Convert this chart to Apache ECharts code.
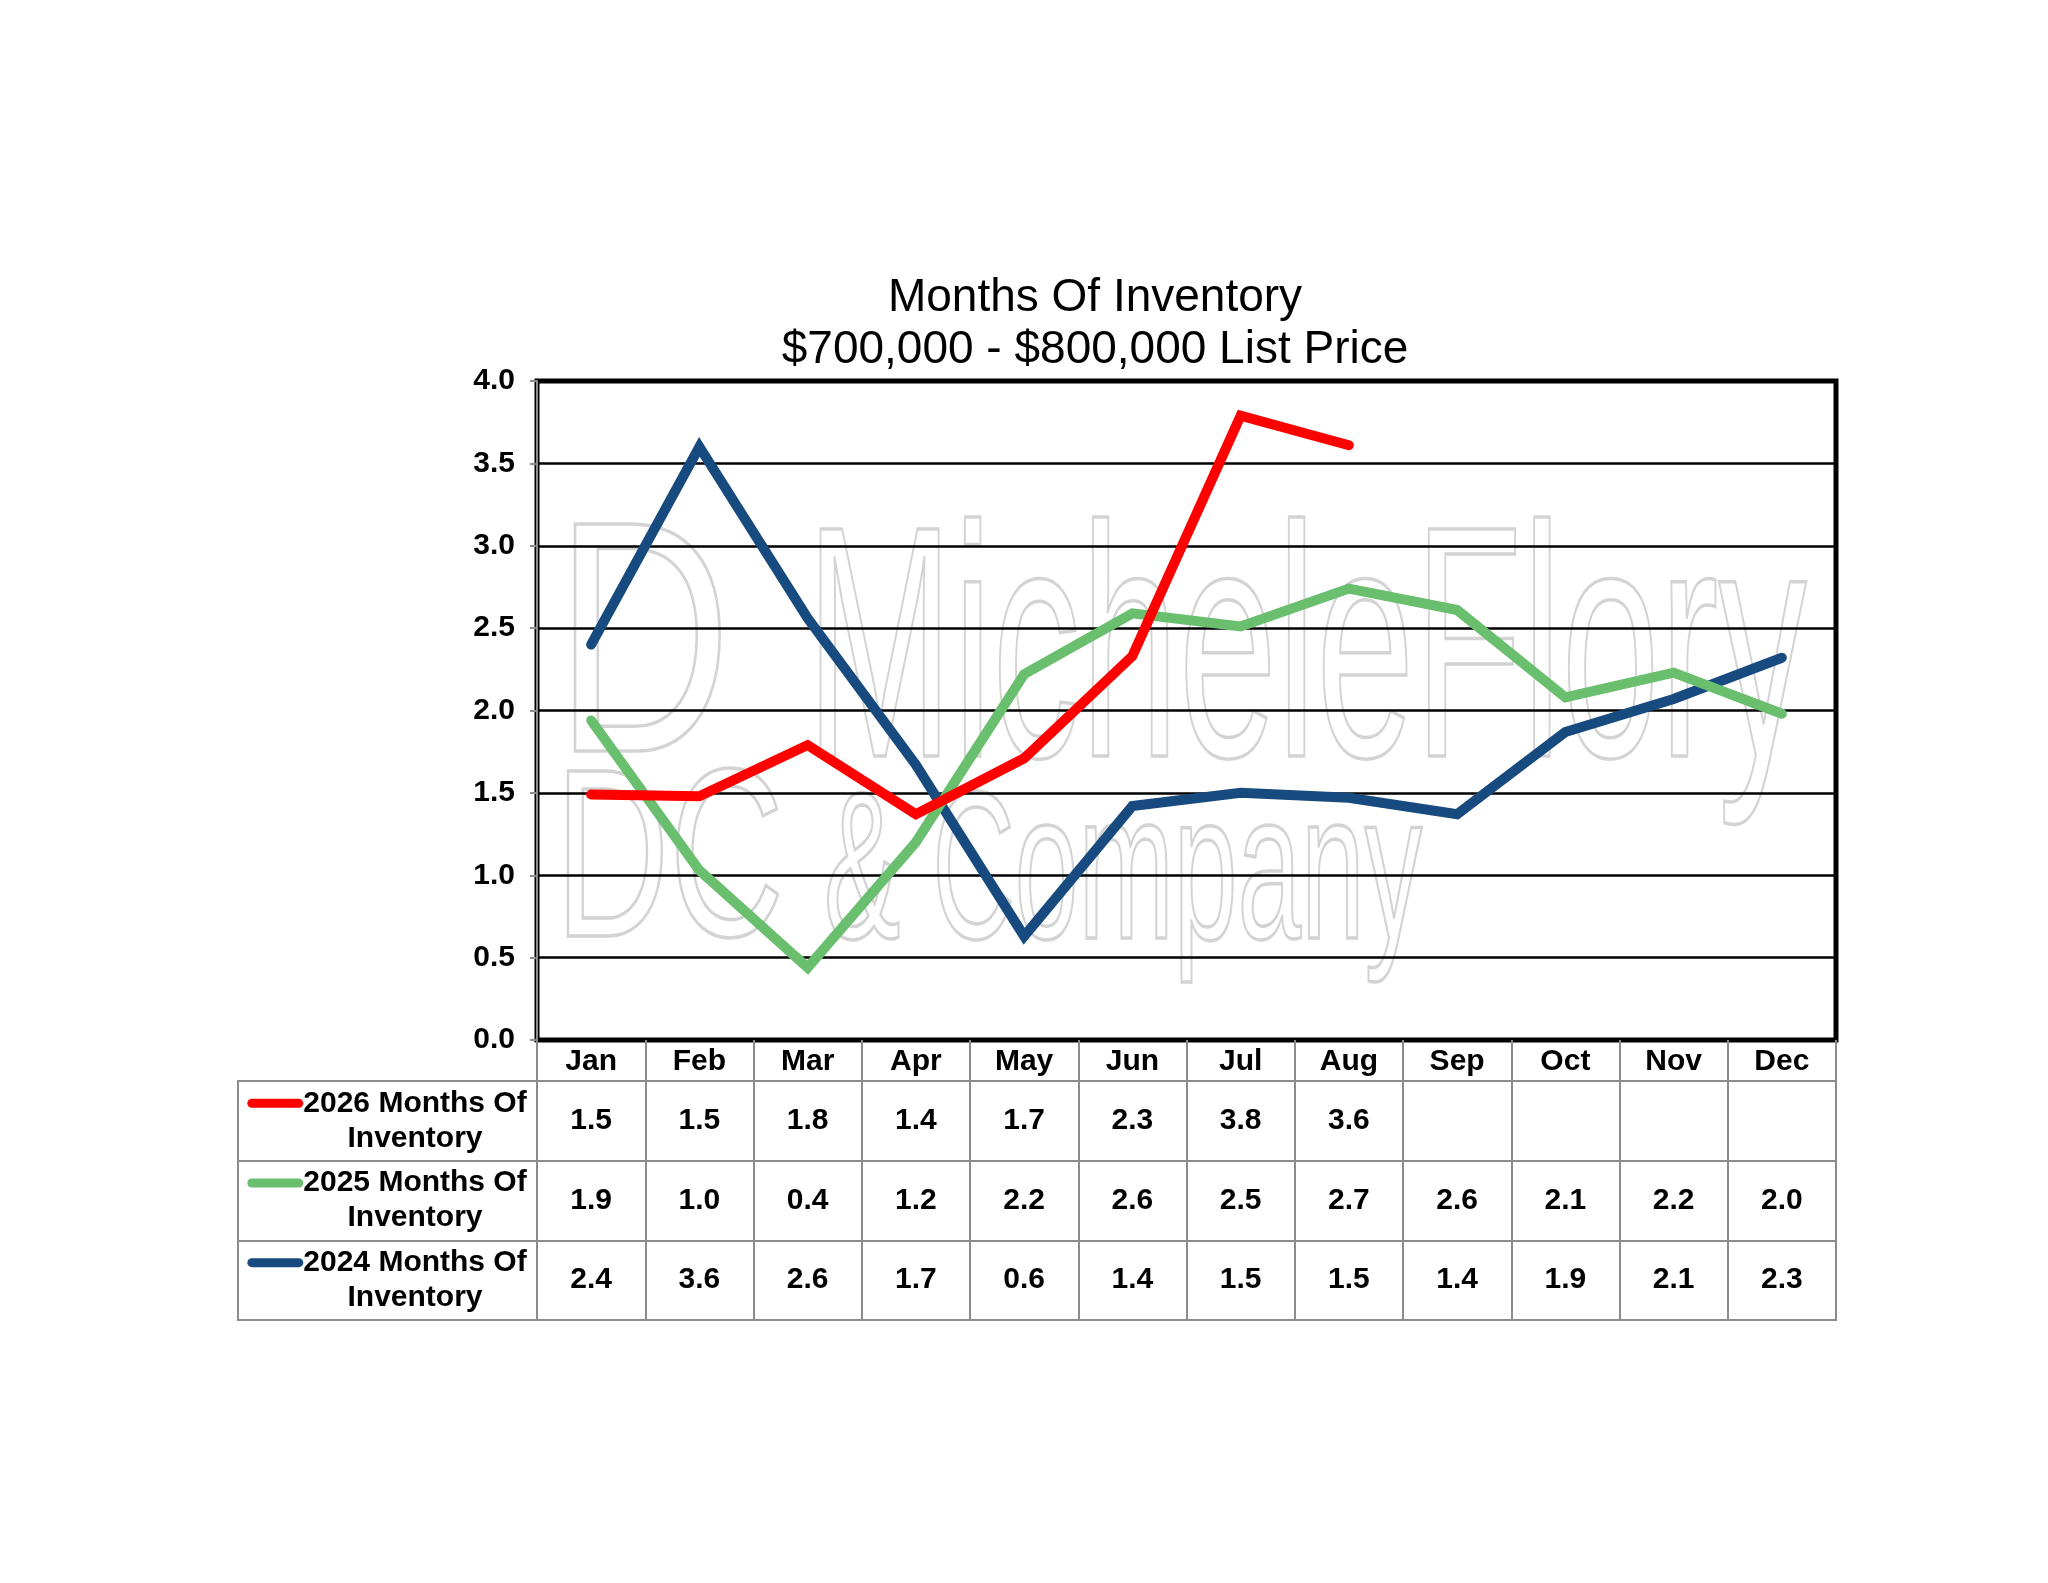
<!DOCTYPE html>
<html>
<head>
<meta charset="utf-8">
<script src="https://cdn.jsdelivr.net/npm/echarts@6/dist/echarts.min.js"></script>
<style>
  html, body { margin: 0; padding: 0; background: #ffffff; }
  #chart { width: 2048px; height: 1583px; }
</style>
</head>
<body>
<div id="chart"></div>
<script>
// ---- data ----
const months = ['Jan', 'Feb', 'Mar', 'Apr', 'May', 'Jun', 'Jul', 'Aug', 'Sep', 'Oct', 'Nov', 'Dec'];
const seriesNames = ['2026 Months Of Inventory', '2025 Months Of Inventory', '2024 Months Of Inventory'];
const values2026 = [1.49, 1.48, 1.79, 1.37, 1.71, 2.33, 3.79, 3.61];
const values2025 = [1.94, 1.03, 0.44, 1.20, 2.22, 2.59, 2.51, 2.74, 2.61, 2.08, 2.23, 1.98];
const values2024 = [2.40, 3.60, 2.56, 1.67, 0.63, 1.42, 1.50, 1.47, 1.37, 1.87, 2.07, 2.32];
const table2026 = ['1.5', '1.5', '1.8', '1.4', '1.7', '2.3', '3.8', '3.6'];
const table2025 = ['1.9', '1.0', '0.4', '1.2', '2.2', '2.6', '2.5', '2.7', '2.6', '2.1', '2.2', '2.0'];
const table2024 = ['2.4', '3.6', '2.6', '1.7', '0.6', '1.4', '1.5', '1.5', '1.4', '1.9', '2.1', '2.3'];
const yTicks = { min: 0, max: 4, interval: 0.5 };
const titleLines = ['Months Of Inventory', '$700,000 - $800,000 List Price'];
const watermarkWords = ['MicheleFlory', '& Company', 'D', 'DC'];

// ---- styling ----
const FONT = '"Liberation Sans", Arial, Helvetica, sans-serif';
const colors = ['#ff0000', '#6abf6e', '#174a7e'];
const tableGray = '#8c8c8c';
const wmStroke = '#d3d3d3';
const rowKeys = ['r2026', 'r2025', 'r2024'];
const tables = [table2026, table2025, table2024];
const lineValues = [values2026, values2025, values2024];

const cellData = [];
tables.forEach((t, r) => {
  t.forEach((txt, c) => cellData.push({ value: [months[c], rowKeys[r]], label: { formatter: txt } }));
});

const rich = {
  t: { fontFamily: FONT, fontSize: 30, fontWeight: 'bold', color: '#000', lineHeight: 35 },
  p: { width: 56, height: 9 }
};
colors.forEach((c, i) => {
  rich['k' + i] = { width: 56, height: 9, backgroundColor: c, borderRadius: 4.5 };
});

function wm(text, x, y, size, sx) {
  return {
    type: 'text', x: x, y: y, scaleX: sx, z: -1, silent: true,
    style: { text: text, fontFamily: FONT, fontSize: size, fill: 'rgba(255,255,255,0)', stroke: wmStroke, lineWidth: 3.5, verticalAlign: 'bottom' }
  };
}

const chart = echarts.init(document.getElementById('chart'), null, { renderer: 'canvas' });
const option = {
  backgroundColor: '#ffffff',
  animation: false,
  title: {
    text: titleLines.join('\n'),
    left: 1095,
    top: 272,
    textAlign: 'center',
    padding: 0,
    textStyle: { fontFamily: FONT, fontSize: 46, fontWeight: 'normal', color: '#000', lineHeight: 52 }
  },
  graphic: [
    wm(watermarkWords[0], 806, 830, 330, 0.535),
    wm(watermarkWords[1], 824, 985, 210, 0.545),
    wm(watermarkWords[2], 555, 825, 330, 0.74),
    wm(watermarkWords[3], 555, 990, 240, 0.66)
  ],
  grid: [
    { left: 537, top: 381, width: 1299, height: 659, show: true, borderColor: '#000', borderWidth: 5, backgroundColor: 'transparent' },
    { left: 537, top: 1081, width: 1299, height: 239, show: true, borderColor: tableGray, borderWidth: 2, backgroundColor: 'transparent' },
    { left: 238, top: 1081, width: 299, height: 239, show: true, borderColor: tableGray, borderWidth: 2, backgroundColor: 'transparent' }
  ],
  xAxis: [
    {
      gridIndex: 0, type: 'category', data: months, boundaryGap: true,
      axisLine: { show: false },
      axisTick: { show: true, interval: 0, length: 41, lineStyle: { color: tableGray, width: 2 } },
      axisLabel: { interval: 0, margin: 7, fontFamily: FONT, fontSize: 30, fontWeight: 'bold', color: '#000' },
      splitLine: { show: false }
    },
    {
      gridIndex: 1, type: 'category', data: months, boundaryGap: true,
      axisLine: { show: false }, axisTick: { show: false }, axisLabel: { show: false },
      splitLine: { show: true, interval: 0, lineStyle: { color: tableGray, width: 2 } }
    },
    { gridIndex: 2, type: 'value', show: false }
  ],
  yAxis: [
    {
      gridIndex: 0, type: 'value', min: yTicks.min, max: yTicks.max, interval: yTicks.interval,
      axisLine: { show: true, lineStyle: { color: tableGray, width: 2 } },
      axisTick: { show: true, length: 7, lineStyle: { color: tableGray, width: 2 } },
      axisLabel: { margin: 22, fontFamily: FONT, fontSize: 30, fontWeight: 'bold', color: '#000', formatter: v => v.toFixed(1) },
      splitLine: { show: true, lineStyle: { color: '#000', width: 2.5 } }
    },
    {
      gridIndex: 1, type: 'category', data: rowKeys, inverse: true, boundaryGap: true,
      axisLine: { show: false }, axisTick: { show: false },
      splitLine: { show: true, interval: 0, lineStyle: { color: tableGray, width: 2 } },
      axisLabel: {
        interval: 0, margin: 122, align: 'center',
        formatter: (v, i) => {
          const name = seriesNames[i];
          const cut = name.lastIndexOf(' ');
          return '{k' + i + '|}{t|' + name.slice(0, cut) + '}{p|}\n{t|' + name.slice(cut + 1) + '}';
        },
        rich: rich
      }
    },
    {
      gridIndex: 2, type: 'category', data: rowKeys, inverse: true, boundaryGap: true,
      axisLine: { show: false }, axisTick: { show: false }, axisLabel: { show: false },
      splitLine: { show: true, interval: 0, lineStyle: { color: tableGray, width: 2 } }
    }
  ],
  series: [
    ...lineValues.map((vals, i) => ({
      name: seriesNames[i], type: 'line', xAxisIndex: 0, yAxisIndex: 0,
      data: vals, symbol: 'none', z: 5 - i,
      lineStyle: { color: colors[i], width: 10, cap: 'round', join: 'miter' },
      itemStyle: { color: colors[i] }
    })),
    {
      type: 'scatter', xAxisIndex: 1, yAxisIndex: 1, data: cellData,
      symbol: 'circle', symbolSize: 0, itemStyle: { color: '#ffffff', opacity: 1 }, silent: true,
      label: { show: true, position: 'inside', fontFamily: FONT, fontSize: 30, fontWeight: 'bold', color: '#000000', textBorderWidth: 0, opacity: 1 }
    }
  ]
};
chart.setOption(option);
</script>
</body>
</html>
